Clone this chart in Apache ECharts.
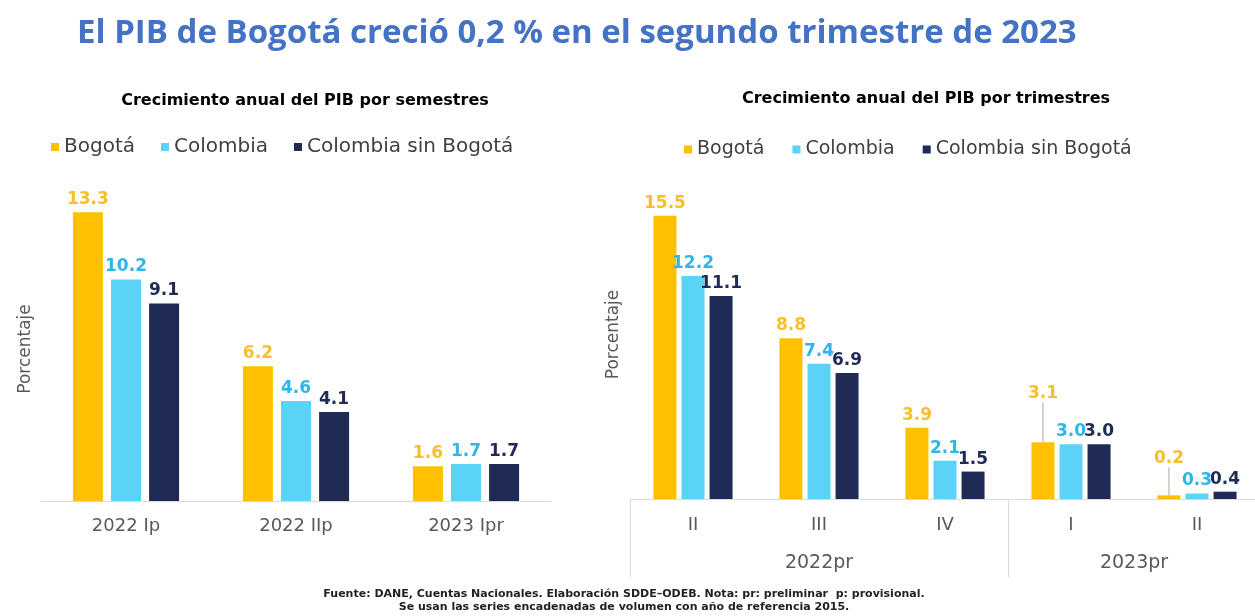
<!DOCTYPE html>
<html>
<head>
<meta charset="utf-8">
<script src="https://cdn.jsdelivr.net/npm/echarts@6/dist/echarts.min.js"></script>
<style>
  html, body { margin: 0; padding: 0; background: #fff; }
</style>
</head>
<body>
<!-- contenedor del gráfico -->
<div id="chartPib" style="width: 1255px;height:616px;"></div>
<script>
// datos por semestres
const semestreCats = ['2022 Ip', '2022 IIp', '2023 Ipr']
const semBogota = [13.3, 6.2, 1.6]
const semColombia = [10.2, 4.6, 1.7]
const semSinBogota = [9.1, 4.1, 1.7]

// datos por trimestres
const trimCats = ['II', 'III', 'IV', 'I', 'II']
const trimYears = ['2022pr', '2023pr']
const trimYearSizes = [3, 2]
const trimBogota = [15.5, 8.8, 3.9, 3.1, 0.2]
const trimColombia = [12.2, 7.4, 2.1, 3.0, 0.3]
const trimSinBogota = [11.1, 6.9, 1.5, 3.0, 0.4]

const seriesNames = ['Bogotá', 'Colombia', 'Colombia sin Bogotá']
const barColors = ['#FFC000', '#5BD3F6', '#1F2A55']
const labelColors = ['#F7BF2A', '#2EB6EA', '#1F2A55']
const font = '"DejaVu Sans", sans-serif'

// centros de los años en el eje de trimestres
const yearCenters = []
let acc = 0
trimYearSizes.forEach(n => {
  yearCenters.push(acc + n / 2)
  acc += n
})

const myChart = echarts.init(document.getElementById('chartPib'))

function makeBar(name, data, idx, grid, barWidth, barGap, extra) {
  const s = {
    name: name,
    type: 'bar',
    xAxisIndex: grid === 0 ? 0 : 1,
    yAxisIndex: grid,
    data: data,
    barWidth: barWidth,
    barGap: barGap,
    itemStyle: { color: barColors[idx] },
    label: {
      show: true,
      position: 'top',
      distance: 4,
      color: labelColors[idx],
      fontFamily: font,
      fontWeight: 'bold',
      fontSize: 17,
      formatter: p => p.value.toFixed(1)
    }
  }
  return Object.assign(s, extra || {})
}

const axisGray = '#D9D9D9'
const textGray = '#595959'

// en 2023 las etiquetas de Bogotá van elevadas con línea guía
const trimBogotaItems = trimBogota.map((v, i) => ({
  value: v,
  labelLine: { show: i >= trimYearSizes[0] }
}))

const option = {
  animation: false,
  backgroundColor: '#fff',
  title: [
    {
      text: 'El PIB de Bogotá creció 0,2 % en el segundo trimestre de 2023',
      left: 72,
      top: 12,
      textStyle: { color: '#4472C4', fontFamily: '"Open Sans", sans-serif', fontWeight: 'bold', fontSize: 33 }
    },
    {
      text: 'Crecimiento anual del PIB por semestres',
      left: 300,
      top: 88,
      textAlign: 'center',
      textStyle: { color: '#000', fontFamily: font, fontWeight: 'bold', fontSize: 16 }
    },
    {
      text: 'Crecimiento anual del PIB por trimestres',
      left: 921,
      top: 86,
      textAlign: 'center',
      textStyle: { color: '#000', fontFamily: font, fontWeight: 'bold', fontSize: 16 }
    },
    {
      text: 'Fuente: DANE, Cuentas Nacionales. Elaboración SDDE–ODEB. Nota: pr: preliminar  p: provisional.\nSe usan las series encadenadas de volumen con año de referencia 2015.',
      left: 619,
      top: 583,
      textAlign: 'center',
      textStyle: { color: '#222', fontFamily: font, fontSize: 11, lineHeight: 13 }
    }
  ],
  legend: [
    {
      data: seriesNames,
      left: 46,
      top: 132,
      icon: 'rect',
      itemWidth: 8,
      itemHeight: 8,
      itemGap: 26,
      textStyle: { color: '#404040', fontFamily: font, fontSize: 20 }
    },
    {
      data: seriesNames,
      left: 679,
      top: 135,
      icon: 'rect',
      itemWidth: 8,
      itemHeight: 8,
      itemGap: 28,
      textStyle: { color: '#404040', fontFamily: font, fontSize: 19 }
    }
  ],
  grid: [
    { left: 41, width: 510, top: 197, bottom: 115, outerBoundsMode: 'none' },
    { left: 630, width: 630, top: 170, bottom: 117, outerBoundsMode: 'none' }
  ],
  xAxis: [
    {
      type: 'category',
      gridIndex: 0,
      data: semestreCats,
      axisLine: { lineStyle: { color: axisGray } },
      axisTick: { show: false },
      axisLabel: { color: textGray, fontFamily: font, fontSize: 18, margin: 16 }
    },
    {
      type: 'category',
      gridIndex: 1,
      data: trimCats,
      axisLine: { lineStyle: { color: axisGray } },
      axisTick: {
        show: true,
        length: 78,
        interval: (index) => index === 0 || index === trimYearSizes[0],
        lineStyle: { color: axisGray }
      },
      axisLabel: { color: textGray, fontFamily: font, fontSize: 18, margin: 17 }
    },
    {
      // segunda fila: años
      type: 'value',
      gridIndex: 1,
      position: 'bottom',
      min: 0,
      max: trimCats.length,
      interval: 0.5,
      offset: 37,
      axisLine: { show: false },
      axisTick: { show: false },
      splitLine: { show: false },
      axisLabel: {
        color: textGray,
        fontFamily: font,
        fontSize: 19,
        margin: 18,
        formatter: v => {
          const i = yearCenters.indexOf(v)
          return i >= 0 ? trimYears[i] : ''
        }
      }
    }
  ],
  yAxis: [
    {
      type: 'value',
      gridIndex: 0,
      min: 0,
      max: 14,
      name: 'Porcentaje',
      nameLocation: 'middle',
      nameGap: 7,
      nameTextStyle: { color: textGray, fontFamily: font, fontSize: 17 },
      axisLine: { show: false },
      axisTick: { show: false },
      axisLabel: { show: false },
      splitLine: { show: false }
    },
    {
      type: 'value',
      gridIndex: 1,
      min: 0,
      max: 18,
      name: 'Porcentaje',
      nameLocation: 'middle',
      nameGap: 8,
      nameTextStyle: { color: textGray, fontFamily: font, fontSize: 17 },
      axisLine: { show: false },
      axisTick: { show: false },
      axisLabel: { show: false },
      splitLine: { show: false }
    }
  ],
  series: [
    makeBar(seriesNames[0], semBogota, 0, 0, 30, '27%'),
    makeBar(seriesNames[1], semColombia, 1, 0, 30, '27%'),
    makeBar(seriesNames[2], semSinBogota, 2, 0, 30, '27%'),
    makeBar(seriesNames[0], trimBogotaItems, 0, 1, 23, '22%', {
      labelLine: { show: false, lineStyle: { color: '#A6A6A6', width: 1 } },
      labelLayout: function(params) {
        if (params.dataIndex === 3) return { dy: -36 }
        if (params.dataIndex === 4) return { dy: -24 }
        return {}
      }
    }),
    makeBar(seriesNames[1], trimColombia, 1, 1, 23, '22%'),
    makeBar(seriesNames[2], trimSinBogota, 2, 1, 23, '22%')
  ]
}

myChart.setOption(option)
</script>
</body>
</html>
